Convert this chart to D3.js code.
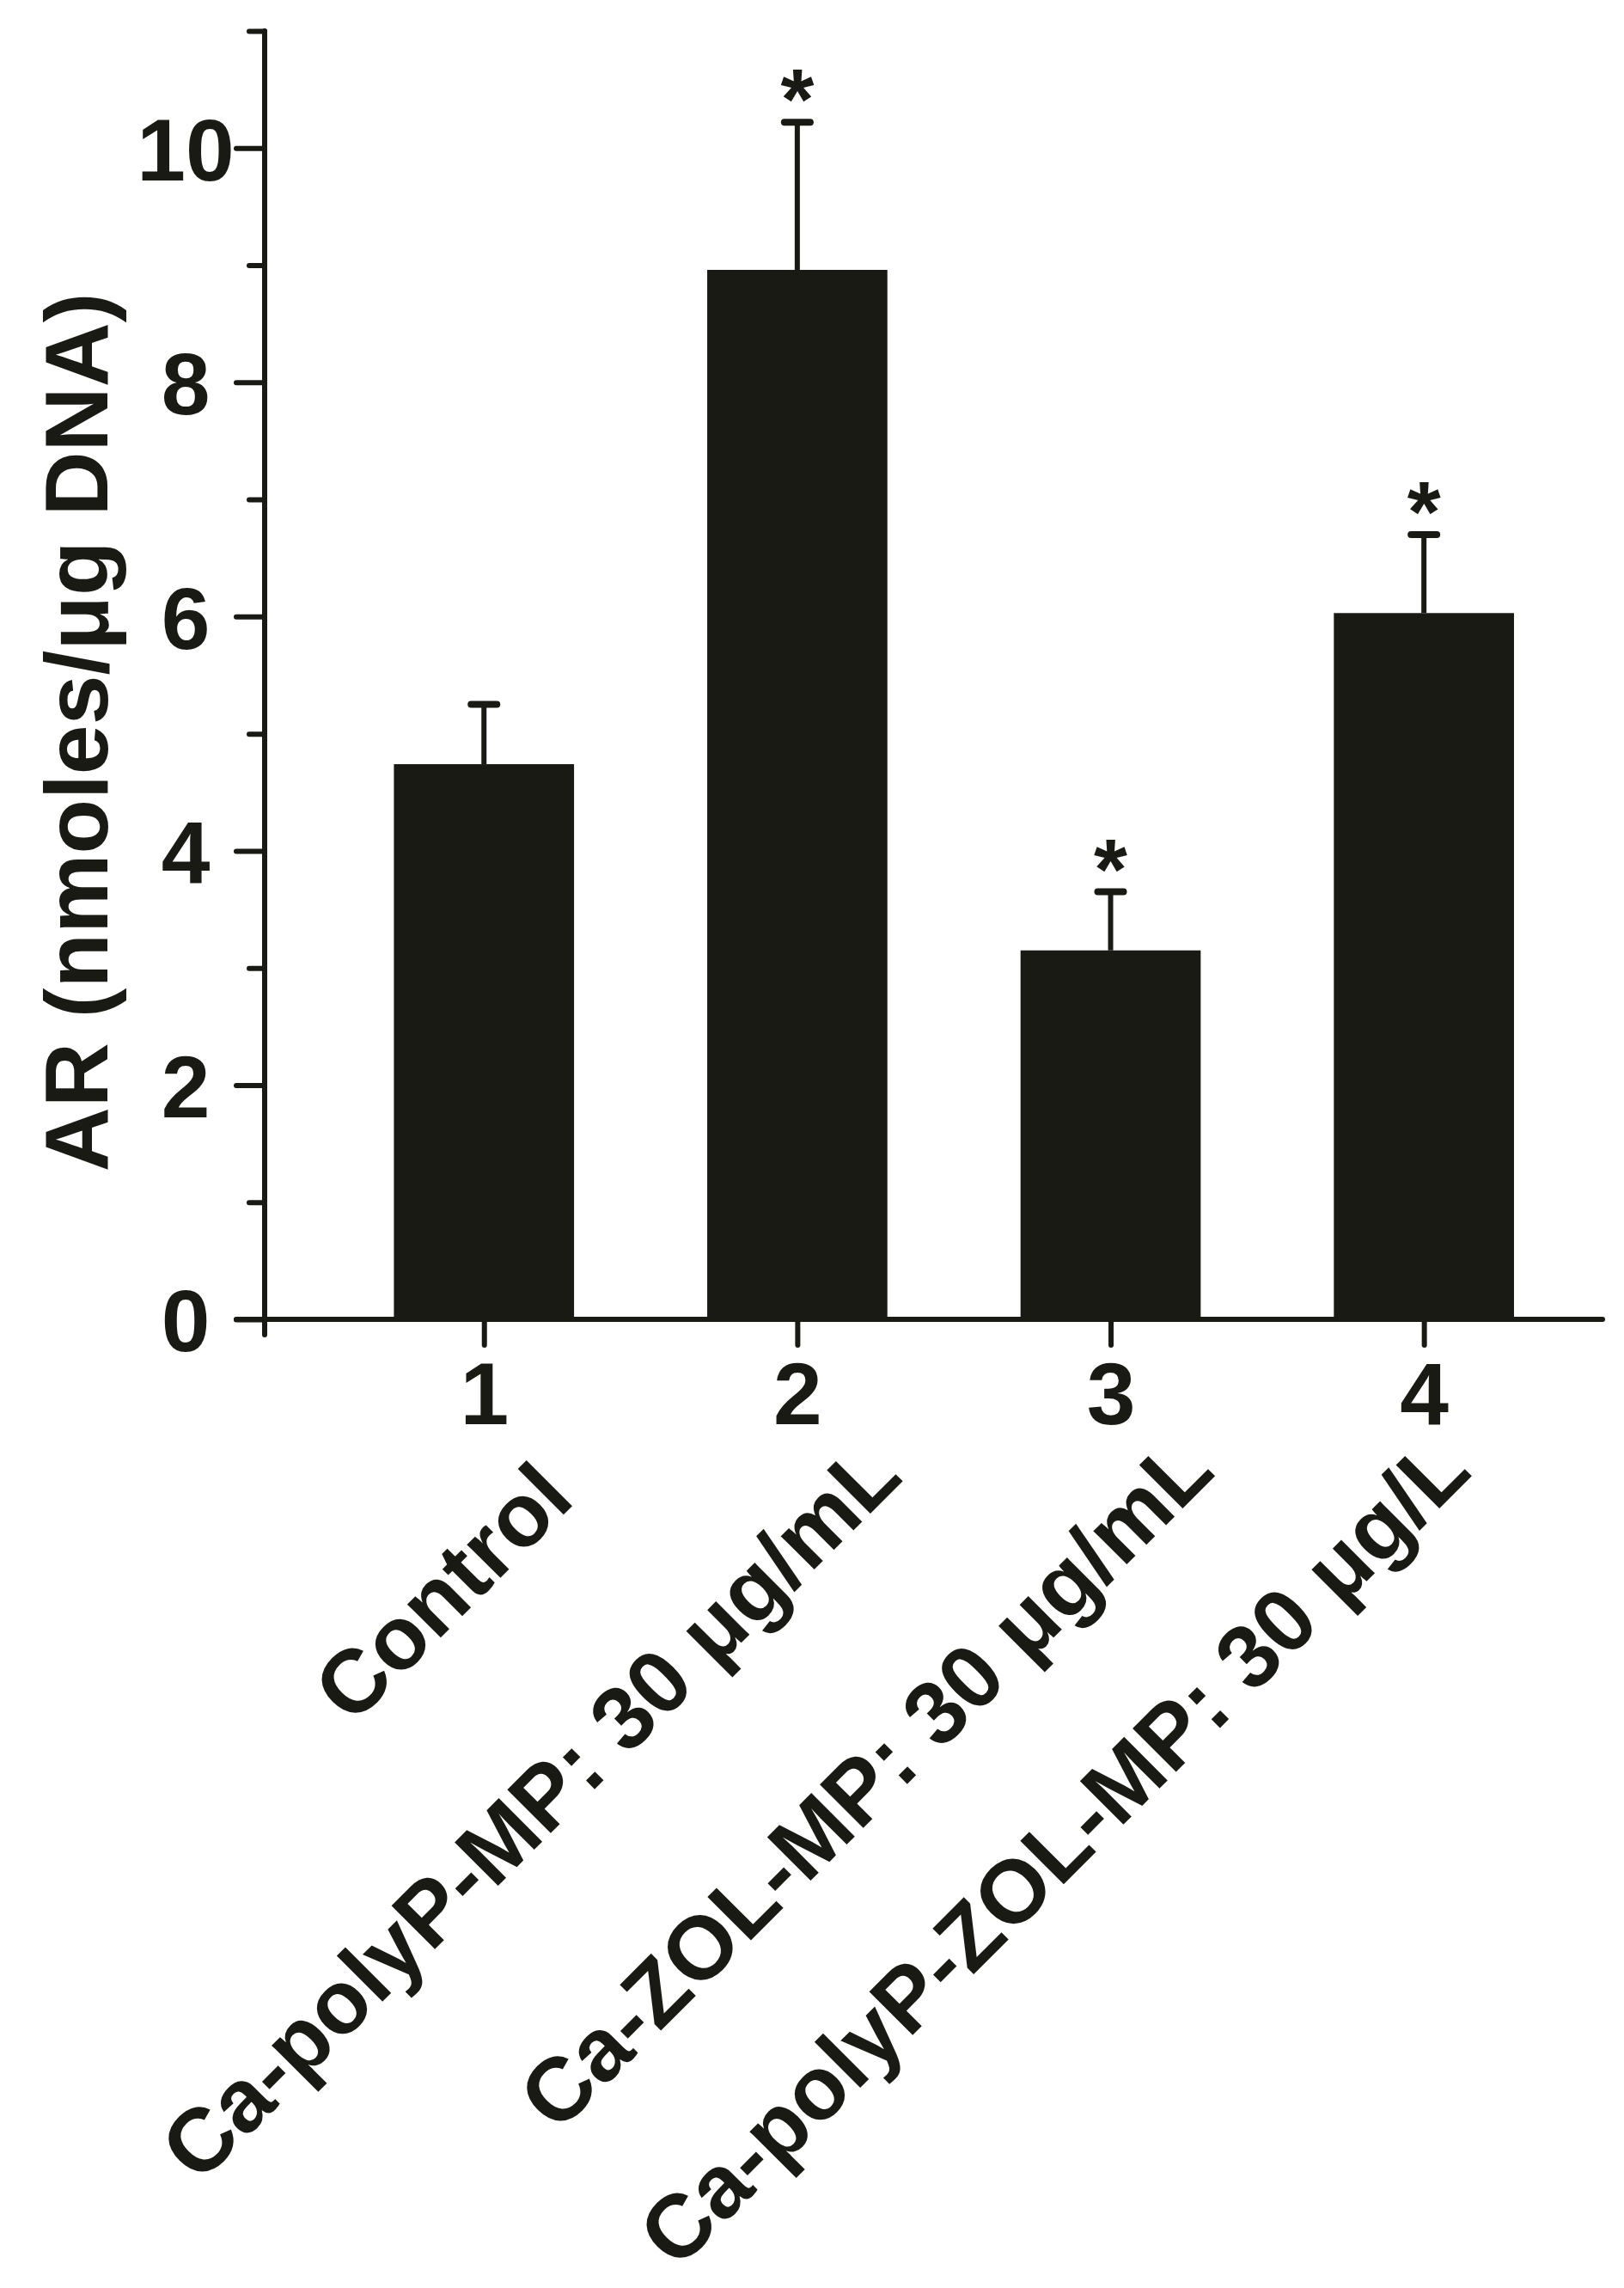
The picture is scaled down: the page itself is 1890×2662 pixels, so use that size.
<!DOCTYPE html>
<html>
<head>
<meta charset="utf-8">
<script src="https://cdn.jsdelivr.net/npm/d3@7"></script>
<style>
  html, body { margin: 0; padding: 0; background: #ffffff; }
  svg { display: block; }
  text { font-family: "Liberation Sans", Arial, Helvetica, sans-serif; font-weight: bold; fill: #1a1a15; }
</style>
</head>
<body>
<script>
// ---------------- data ----------------
const categories = ["1", "2", "3", "4"];
const groupLabels = ["Control", "Ca-polyP-MP: 30 μg/mL", "Ca-ZOL-MP: 30 μg/mL", "Ca-polyP-ZOL-MP: 30 μg/L"];
const means = [4.74, 8.96, 3.15, 6.03];
const errors = [0.51, 1.26, 0.50, 0.67];
const significant = [false, true, true, true];
const yTicks = [0, 2, 4, 6, 8, 10];
const yMinorTicks = [1, 3, 5, 7, 9, 11];
const yTitle = "AR (nmoles/μg DNA)";

// ---------------- layout ----------------
const W = 1890, H = 2662;
const ink = "#1a1a15";
const plotLeft = 308, plotRight = 1865, plotTop = 36, plotBottom = 1535;
const labelNudge = [[108, 212], [125, 186], [124, 180], [58, 180]];

const svg = d3.select("body").append("svg").attr("width", W).attr("height", H);
svg.append("rect").attr("width", W).attr("height", H).attr("fill", "#fff");

const x = d3.scaleLinear().domain([0.3, 4.57]).range([plotLeft, plotRight]);
const y = d3.scaleLinear().domain([0, 11]).range([plotBottom, plotTop]);
const halfBar = 0.2875;

// bars
svg.append("g").selectAll("rect").data(means).join("rect")
  .attr("x", (d, i) => x(i + 1 - halfBar))
  .attr("width", (d, i) => x(i + 1 + halfBar) - x(i + 1 - halfBar))
  .attr("y", d => y(d))
  .attr("height", d => y(0) - y(d))
  .attr("fill", ink);

// error bars
const eb = svg.append("g").attr("stroke", ink);
means.forEach((m, i) => {
  const cx = x(i + 1);
  eb.append("line").attr("x1", cx).attr("x2", cx)
    .attr("y1", y(m)).attr("y2", y(m + errors[i])).attr("stroke-width", 6);
  eb.append("line").attr("x1", cx - 15).attr("x2", cx + 15)
    .attr("y1", y(m + errors[i])).attr("y2", y(m + errors[i]))
    .attr("stroke-width", 8).attr("stroke-linecap", "round");
  if (significant[i]) {
    svg.append("text").attr("x", cx).attr("y", y(m + errors[i]) + 8)
      .attr("text-anchor", "middle").attr("font-size", 100).text("*");
  }
});

// y axis (major)
const gy = svg.append("g").attr("transform", `translate(${plotLeft},0)`)
  .call(d3.axisLeft(y).tickValues(yTicks).tickSize(33).tickFormat(d3.format("d")));
gy.select(".domain").remove();
gy.selectAll(".tick line").attr("stroke", ink).attr("stroke-width", 6).attr("stroke-linecap", "round");
gy.selectAll(".tick text").attr("x", -92).attr("dy", "0.36em").attr("text-anchor", "middle")
  .attr("font-size", 102).attr("fill", ink)
  .style("font-family", '"Liberation Sans", Arial, sans-serif').style("font-weight", "bold");

// y axis (minor)
const gym = svg.append("g").attr("transform", `translate(${plotLeft},0)`)
  .call(d3.axisLeft(y).tickValues(yMinorTicks).tickSize(18).tickFormat(""));
gym.select(".domain").remove();
gym.selectAll(".tick line").attr("stroke", ink).attr("stroke-width", 6).attr("stroke-linecap", "round");

// x axis
const gx = svg.append("g").attr("transform", `translate(0,${plotBottom})`)
  .call(d3.axisBottom(x).tickValues([1, 2, 3, 4]).tickSize(30).tickFormat(d => categories[d - 1]));
gx.select(".domain").remove();
gx.selectAll(".tick line").attr("stroke", ink).attr("stroke-width", 6).attr("stroke-linecap", "round");
gx.selectAll(".tick text").attr("y", 122).attr("dy", 0).attr("font-size", 102).attr("fill", ink)
  .style("font-family", '"Liberation Sans", Arial, sans-serif').style("font-weight", "bold");

// axis lines
svg.append("line").attr("x1", plotLeft).attr("x2", plotLeft).attr("y1", plotTop).attr("y2", plotBottom + 18)
  .attr("stroke", ink).attr("stroke-width", 6).attr("stroke-linecap", "round");
svg.append("line").attr("x1", plotLeft - 33).attr("x2", plotRight).attr("y1", plotBottom).attr("y2", plotBottom)
  .attr("stroke", ink).attr("stroke-width", 6).attr("stroke-linecap", "round");

// category labels
groupLabels.forEach((t, i) => {
  const ax = x(i + 1) + labelNudge[i][0];
  const ay = plotBottom + labelNudge[i][1];
  svg.append("text").attr("transform", `translate(${ax},${ay}) rotate(-45)`)
    .attr("text-anchor", "end").attr("font-size", 104).text(t);
});

// y title
svg.append("text").attr("transform", `translate(125,852) rotate(-90)`)
  .attr("text-anchor", "middle").attr("font-size", 104).text(yTitle);
</script>
</body>
</html>
